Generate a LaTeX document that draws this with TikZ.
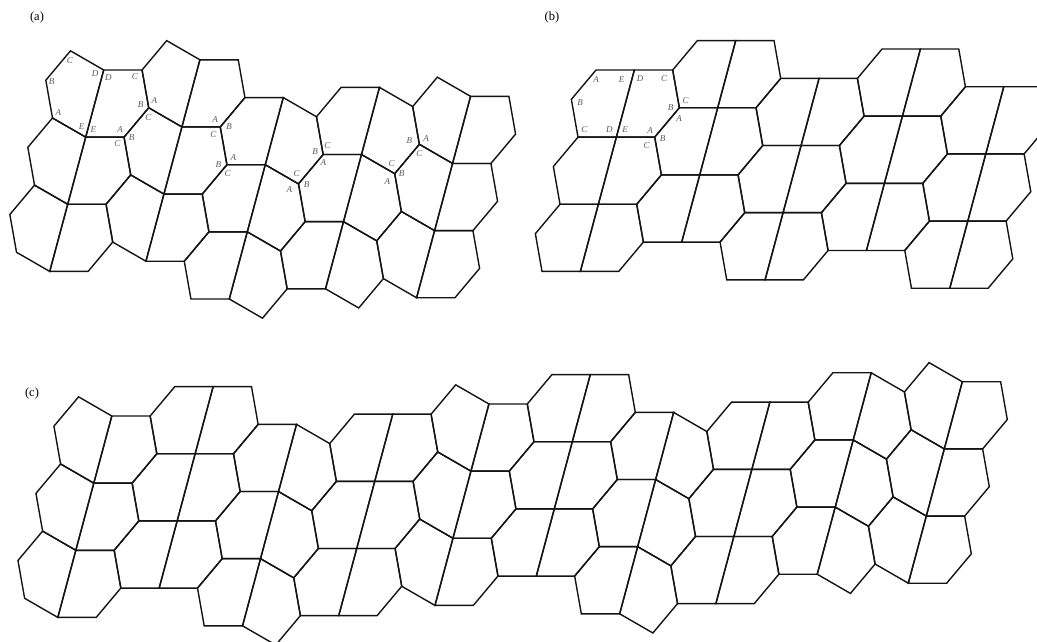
\documentclass[tikz,border=0pt]{standalone}
\usepackage{fontspec}
\setmainfont{Liberation Serif}
\def\tlen{38.35}
\newcommand\tseg[4]{%
  \draw[tile] (#1,#2) -- ++(#3+180:\tlen) -- ++(130:\tlen) -- ++(80:\tlen) -- ++(#3:\tlen) -- cycle;
  \draw[tile] (#1,#2) -- ++(#4:\tlen) -- ++(80:\tlen) -- ++(130:\tlen) -- ++(#4+180:\tlen) -- cycle;}
\newcommand\tcol[5]{%
  \foreach \k in {1,...,#5}{%
    \pgfmathsetmacro\tx{#1-(\k-1)*17.9916}%
    \pgfmathsetmacro\ty{#2+(\k-1)*67.1452}%
    \tseg{\tx}{\ty}{#3}{#4}%
  }}
\begin{document}
\begin{tikzpicture}[x=1pt,y=-1pt,
  tile/.style={draw=black!92,line width=1.4pt,line join=miter},
  lab/.style={font=\fontsize{9}{9}\selectfont\itshape,text=black!65,inner sep=0pt},
  ttl/.style={font=\fontsize{12.5}{12.5}\selectfont,inner sep=0pt}]
\useasboundingbox (0,0) rectangle (1037,641);
\begin{scope}
\clip (0,0) rectangle (1037,641);
% (a)
\tcol{103.7}{70}{30}{0}{3}
\tcol{199.913}{59.797}{30}{0}{3}
\tcol{283.272}{97.565}{0}{30}{3}
\tcol{379.485}{87.362}{0}{30}{3}
\tcol{470.560}{96.334}{30}{0}{3}
% (b)
\tcol{634.35}{70}{0}{0}{3}
\tcol{735.701}{40.622}{0}{0}{3}
\tcol{819.060}{78.390}{0}{0}{3}
\tcol{920.411}{49.012}{0}{0}{3}
\tcol{1003.770}{86.780}{0}{0}{3}
% (c)
\tcol{111.8}{416.0}{30}{0}{3}
\tcol{213.151}{386.622}{0}{0}{3}
\tcol{296.510}{424.389}{0}{30}{3}
\tcol{392.723}{414.186}{0}{0}{3}
\tcol{488.936}{403.983}{30}{0}{3}
\tcol{590.287}{374.605}{0}{0}{3}
\tcol{673.646}{412.372}{0}{30}{3}
\tcol{769.859}{402.169}{0}{0}{3}
\tcol{871.210}{372.791}{0}{30}{3}
\tcol{962.285}{381.763}{30}{0}{3}
\end{scope}
% titles
\node[ttl] (ta) at (37,17) {(a)};
\node[ttl] (tb) at (552,17) {(b)};
\node[ttl] (tc) at (32,393) {(c)};
% labels (a)
\node[lab] (a1) at (70,60.7) {C};
\node[lab] (a2) at (51.7,81.7) {B};
\node[lab] (a3) at (58.3,112.7) {A};
\node[lab] (a4) at (95,73.3) {D};
\node[lab] (a5) at (108.3,77.7) {D};
\node[lab] (a6) at (135,76.7) {C};
\node[lab] (a7) at (140.7,105) {B};
\node[lab] (a8) at (154.3,101) {A};
\node[lab] (a9) at (148.3,117.3) {C};
\node[lab] (a10) at (81.7,126.7) {E};
\node[lab] (a11) at (93.3,130) {E};
\node[lab] (a12) at (120,129.3) {A};
\node[lab] (a13) at (117.3,143.3) {C};
\node[lab] (a14) at (131.7,137.3) {B};
\node[lab] (a15) at (215,119.3) {A};
\node[lab] (a16) at (213.3,135) {C};
\node[lab] (a17) at (229,126.7) {B};
\node[lab] (a18) at (218.3,165) {B};
\node[lab] (a19) at (233.3,157.7) {A};
\node[lab] (a20) at (227.7,174) {C};
\node[lab] (a21) at (315,151.7) {B};
\node[lab] (a22) at (327.3,146) {C};
\node[lab] (a23) at (323.3,162.7) {A};
\node[lab] (a24) at (296.7,173.3) {C};
\node[lab] (a25) at (289.3,189.3) {A};
\node[lab] (a26) at (306.7,185) {B};
\node[lab] (a27) at (409.3,141) {B};
\node[lab] (a28) at (426,138.3) {A};
\node[lab] (a29) at (419.3,154) {C};
\node[lab] (a30) at (391.7,163.3) {C};
\node[lab] (a31) at (387.3,181.7) {A};
\node[lab] (a32) at (401.7,174) {B};
% labels (b)
\node[lab] (b1) at (596,79.3) {A};
\node[lab] (b2) at (621.7,79.3) {E};
\node[lab] (b3) at (640,78.3) {D};
\node[lab] (b4) at (664,78.3) {C};
\node[lab] (b5) at (580,102.7) {B};
\node[lab] (b6) at (670.7,107.3) {B};
\node[lab] (b7) at (685.7,101) {C};
\node[lab] (b8) at (679,118.3) {A};
\node[lab] (b9) at (584.3,130) {C};
\node[lab] (b10) at (609.3,130) {D};
\node[lab] (b11) at (625,130) {E};
\node[lab] (b12) at (650,131) {A};
\node[lab] (b13) at (646.7,146) {C};
\node[lab] (b14) at (662.7,139) {B};
\end{tikzpicture}
\end{document}
